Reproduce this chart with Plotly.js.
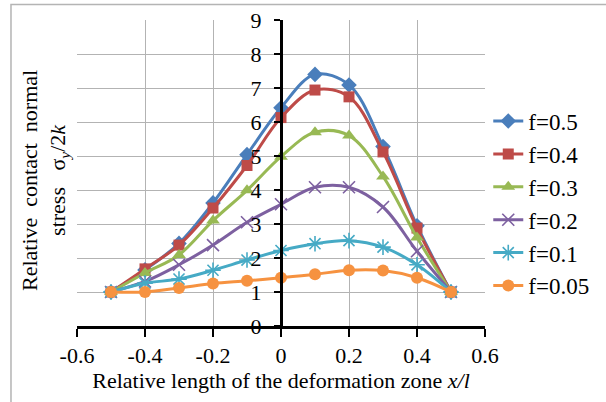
<!DOCTYPE html>
<html>
<head>
<meta charset="utf-8">
<script src="https://cdn.plot.ly/plotly-3.0.1.min.js"></script>
<style>html,body{margin:0;padding:0;background:#fff;}#chart{width:606px;height:402px;}</style>
</head>
<body>
<div id="chart"></div>
<script>
// Data
const xPos = [-0.5, -0.4, -0.3, -0.2, -0.1, 0, 0.1, 0.2, 0.3, 0.4, 0.5];
const seriesNames = ["f=0.5", "f=0.4", "f=0.3", "f=0.2", "f=0.1", "f=0.05"];
const f05  = [1.0, 1.65, 2.43, 3.62, 5.04, 6.42, 7.40, 7.09, 5.28, 2.95, 1.0];
const f04  = [1.0, 1.68, 2.38, 3.47, 4.72, 6.13, 6.94, 6.74, 5.12, 2.88, 1.0];
const f03  = [1.0, 1.56, 2.09, 3.10, 3.99, 4.98, 5.70, 5.60, 4.40, 2.60, 1.0];
const f02  = [1.0, 1.31, 1.80, 2.38, 3.05, 3.58, 4.08, 4.08, 3.50, 2.20, 1.0];
const f01  = [1.0, 1.26, 1.38, 1.64, 1.94, 2.22, 2.42, 2.51, 2.32, 1.80, 1.0];
const f005 = [1.0, 1.0, 1.12, 1.25, 1.33, 1.42, 1.52, 1.64, 1.63, 1.42, 1.0];
const xTickVals = [-0.6, -0.4, -0.2, 0, 0.2, 0.4, 0.6];
const xTickText = ["-0.6", "-0.4", "-0.2", "0", "0.2", "0.4", "0.6"];
const yTickVals = [0, 1, 2, 3, 4, 5, 6, 7, 8, 9];
const yTickText = ["0", "1", "2", "3", "4", "5", "6", "7", "8", "9"];

const allY = [f05, f04, f03, f02, f01, f005];
const colors = ["#4A7EBB", "#BE4B48", "#98B954", "#7D60A0", "#46AAC5", "#F69240"];
const symbols = ["diamond", "square", "triangle-up", "x-thin-open", "asterisk-open", "circle"];
const sizes = [12, 11, 12, 12, 13, 12];

const FONT = "Liberation Serif";

const traces = allY.map((ys, i) => ({
  type: "scatter",
  mode: "lines+markers",
  name: seriesNames[i],
  legendgroup: "g" + i,
  x: xPos,
  y: ys,
  line: {color: colors[i], width: 3, shape: "spline", smoothing: 1},
  marker: {
    symbol: symbols[i],
    size: sizes[i],
    color: colors[i],
    line: {color: colors[i], width: (i === 3 || i === 4) ? 1.6 : 0}
  }
}));

const layout = {
  width: 606,
  height: 402,
  margin: {l: 77, r: 118, t: 20, b: 76},
  paper_bgcolor: "#ffffff",
  plot_bgcolor: "#ffffff",
  font: {family: FONT, size: 21, color: "#000"},
  showlegend: true,
  legend: {
    x: 1.008, y: 0.74, xanchor: "left", yanchor: "top",
    traceorder: "grouped", tracegroupgap: 0,
    font: {family: FONT, size: 23, color: "#000"},
    bgcolor: "rgba(0,0,0,0)", borderwidth: 0
  },
  xaxis: {
    range: [-0.6, 0.6],
    tickvals: xTickVals, ticktext: xTickText,
    showgrid: true, gridcolor: "#b3b3b3", gridwidth: 1,
    zeroline: false,
    showline: true, linecolor: "#000", linewidth: 2.5,
    ticks: "outside", ticklen: 8, tickwidth: 2.5, tickcolor: "#000",
    tickfont: {family: FONT, size: 22, color: "#000"},
    title: {
      text: "Relative length of the deformation zone <i>x/l</i>",
      font: {family: FONT, size: 22, color: "#000"},
      standoff: 5
    },
    fixedrange: true
  },
  yaxis: {
    range: [0, 9],
    tickvals: yTickVals, ticktext: yTickText,
    anchor: "free", position: 0.5,
    showgrid: true, gridcolor: "#b3b3b3", gridwidth: 1,
    zeroline: false,
    showline: true, linecolor: "#000", linewidth: 2.5,
    ticks: "outside", ticklen: 6, tickwidth: 2.5, tickcolor: "#000",
    ticklabelstandoff: 8,
    tickfont: {family: FONT, size: 22, color: "#000"},
    fixedrange: true
  },
  shapes: [
    {type: "rect", xref: "paper", yref: "paper", x0: -0.1618, x1: 1.6, y0: 1.0507, y1: -0.6,
     line: {color: "#b4b4b4", width: 1.5}, fillcolor: "rgba(0,0,0,0)", layer: "below"}
  ],
  annotations: [
    {
      xref: "paper", yref: "paper", x: -0.08, y: 0.475,
      xanchor: "center", yanchor: "middle", textangle: -90, showarrow: false,
      text: "Relative  contact  normal<br>stress   σ<sub><i>y</i></sub>/2<i>k</i>",
      font: {family: FONT, size: 22, color: "#000"}
    }
  ]
};

Plotly.newPlot("chart", traces, layout, {displayModeBar: false, staticPlot: true});
</script>
</body>
</html>
